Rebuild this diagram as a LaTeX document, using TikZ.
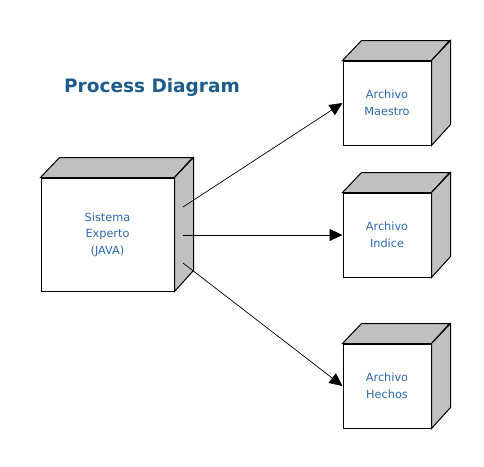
\documentclass[tikz,border=0pt]{standalone}
\usepackage{fontspec}
\setmainfont{DejaVu Sans}
\usetikzlibrary{arrows.meta}
\definecolor{titleblue}{RGB}{30,92,140}
\definecolor{labelblue}{RGB}{45,105,175}
\definecolor{sidegray}{RGB}{192,192,192}
\tikzset{
  front/.style={draw=black, line width=1pt, fill=white, inner sep=0pt,
    font=\fontsize{11.3}{16.5}\selectfont, text=labelblue, align=center},
  faces/.style={draw=black, line width=1pt, fill=sidegray, line join=miter},
  conn/.style={draw=black, line width=0.7pt, -{Triangle[length=13pt,width=12pt]}},
  titlestyle/.style={font=\bfseries\fontsize{18.5}{22}\selectfont, text=titleblue, inner sep=0pt}
}
\newcommand{\cubeboxmine}[6]{%
  \node[front, minimum width=#4pt, minimum height=#5pt] (#1) at (#2,#3) {#6};
  \path[faces] (#1.north west) -- ++(19,-20) -- ++(#4,0) -- (#1.north east) -- cycle;
  \path[faces] (#1.north east) -- ++(19,-20) -- ++(0,#5) -- (#1.south east) -- cycle;
}
\begin{document}
\begin{tikzpicture}[x=1pt,y=-1pt]
  \useasboundingbox (0,0) rectangle (484,466);
  \node[titlestyle] (title) at (152,87) {Process Diagram};
  \cubeboxmine{sis}{107.5}{234.5}{133}{113}{Sistema\\Experto\\(JAVA)}
  \cubeboxmine{mae}{387}{103}{88}{84}{Archivo\\Maestro}
  \cubeboxmine{ind}{387}{235}{88}{84}{Archivo\\Indice}
  \cubeboxmine{hec}{387}{386}{88}{84}{Archivo\\Hechos}
  \coordinate (s1) at (183,207);
  \coordinate (s2) at (183,235);
  \coordinate (s3) at (183,263);
  \draw[conn] (s1) -- (mae.west);
  \draw[conn] (s2) -- (ind.west);
  \draw[conn] (s3) -- (hec.west);
\end{tikzpicture}
\end{document}
